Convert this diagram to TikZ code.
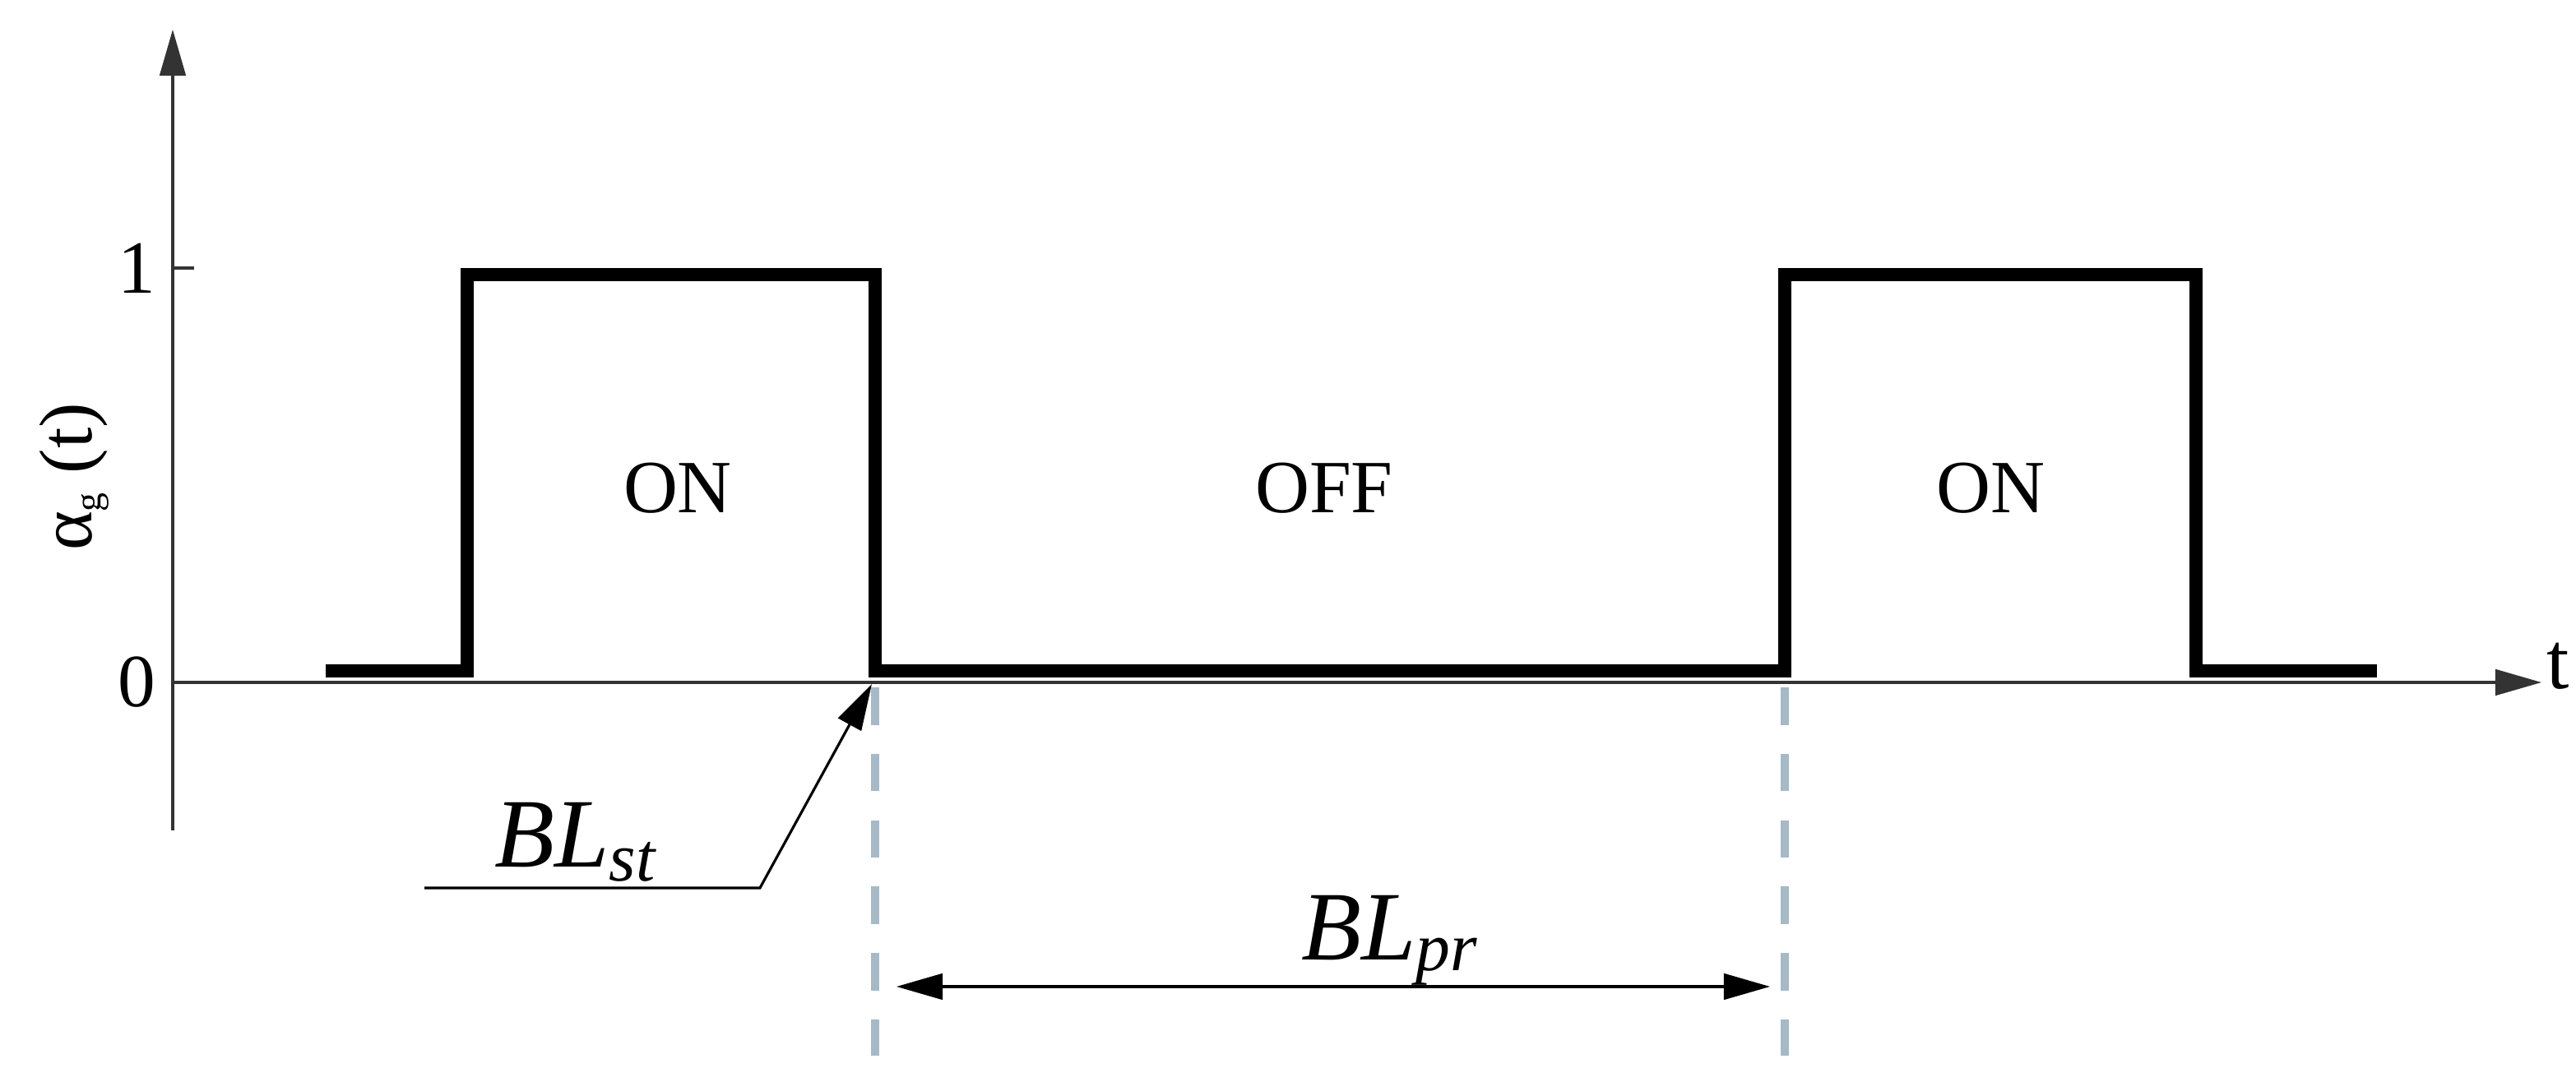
\documentclass[tikz,border=0pt]{standalone}
\usepackage{fontspec}
\setmainfont{Liberation Serif}
\usetikzlibrary{arrows.meta}
\begin{document}
\begin{tikzpicture}[x=0.02cm,y=-0.02cm,
  axis/.style={line width=0.9pt,draw=black!80},
  sig/.style={line width=4.6pt,line join=miter},
  lbl/.style={font=\fontsize{26}{30}\selectfont},
  big/.style={font=\fontsize{34}{40}\selectfont\itshape},
  dsh/.style={line width=2.8pt,draw={rgb,255:red,165;green,185;blue,198},dash pattern=on 13pt off 10pt},
  tip/.style={-{Triangle[length=16pt,width=9pt]}}]
\useasboundingbox (0,0) rectangle (1566,649.5);
\coordinate (o) at (105,415);
\coordinate (ytop) at (105,18);
\coordinate (ybot) at (105,505);
\coordinate (xend) at (1545,415);
\draw[axis,tip] (ybot) -- (ytop);
\draw[axis,tip] (o) -- (xend);
\coordinate (t1a) at (105,163); \coordinate (t1b) at (118,163);
\draw[axis] (t1a) -- (t1b);
\node[lbl] (one) at (83,163) {1};
\node[lbl] (zero) at (83,415) {0};
\node[lbl,font=\fontsize{28}{32}\selectfont] (t) at (1555,405) {t};
\node[lbl,rotate=90] (ylab) at (45,290) {α\raisebox{-0.25ex}{\fontsize{13}{15}\selectfont g} (t)};
\draw[sig] (198,408) -- (284,408) -- (284,167) -- (532,167) -- (532,408) -- (1085,408) -- (1085,167) -- (1335,167) -- (1335,408) -- (1445,408);
\node[lbl] (on1) at (412,297) {ON};
\node[lbl] (off) at (805,297) {OFF};
\node[lbl] (on2) at (1210,297) {ON};
\coordinate (d1a) at (532,418); \coordinate (d1b) at (532,642);
\coordinate (d2a) at (1085,418); \coordinate (d2b) at (1085,642);
\draw[dsh] (d1a) -- (d1b);
\draw[dsh] (d2a) -- (d2b);
\coordinate (pa) at (545,600); \coordinate (pb) at (1076,600);
\draw[line width=0.9pt,{Triangle[length=16pt,width=9pt]}-{Triangle[length=16pt,width=9pt]}] (pa) -- (pb);
\node[big] (blpr) at (845,572) {BL\textsubscript{pr}};
\coordinate (s0) at (258,540); \coordinate (s1) at (462,540); \coordinate (s2) at (530,416);
\draw[line width=0.9pt,tip] (s0) -- (s1) -- (s2);
\node[big] (blst) at (350,512) {BL\textsubscript{st}};
\end{tikzpicture}
\end{document}
